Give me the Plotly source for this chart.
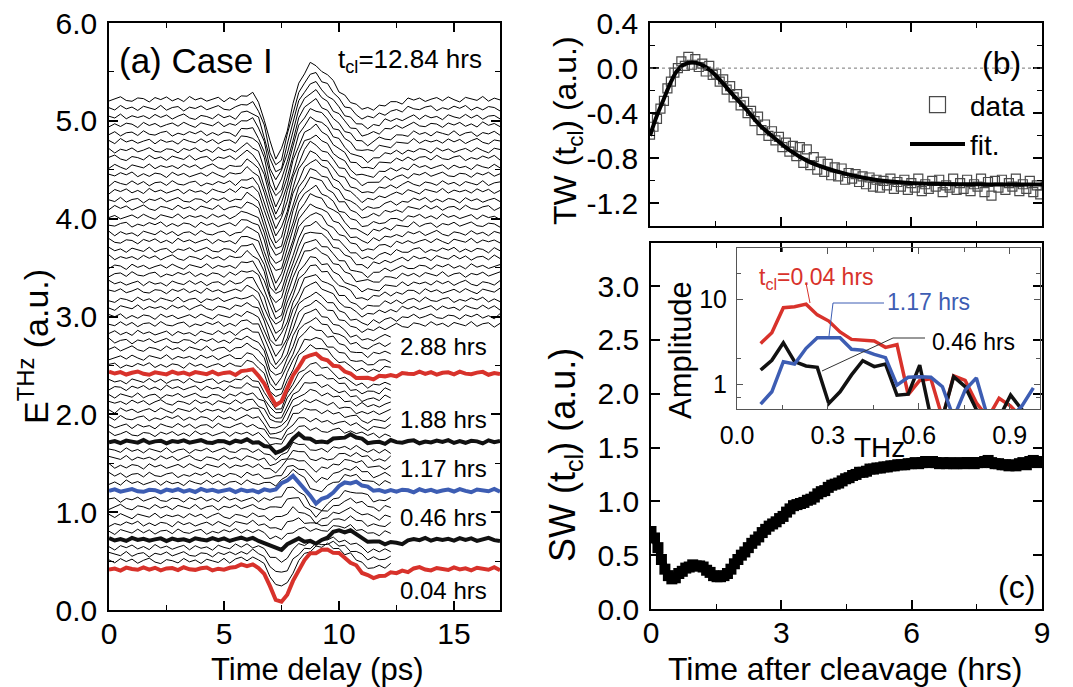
import numpy as np
import plotly.graph_objects as go

FIG_W, FIG_H = 1073, 687
FONT = "Liberation Sans, Arial, Helvetica, sans-serif"


def px(x):
    return x / FIG_W


def py(y):
    return 1 - y / FIG_H


# ---------------- panel (a): THz waveforms ----------------
delay_ps = np.round(np.arange(0.0, 17.0001, 0.25), 2)   # time axis (ps)
PULSE_FIRST = 22                                         # sample at 5.5 ps; pulse windows run 5.5-13.0 ps

# waveform deviations from baseline, 5.5 ... 13.0 ps every 0.25 ps
shape_main = [0, 0.03, 0.06, 0.05, -0.03, -0.20, -0.45, -0.60, -0.52, -0.30, -0.05, 0.15, 0.28, 0.35,
              0.35, 0.30, 0.24, 0.17, 0.10, 0.04, -0.02, -0.07, -0.10, -0.11, -0.09, -0.07, -0.05,
              -0.04, -0.03, -0.02, -0.01]                                   # 12.84 hrs trace
shape_004 = [0.02, 0.03, 0.04, 0.04, 0.02, -0.06, -0.18, -0.30, -0.35, -0.26, -0.13, -0.01, 0.09, 0.15,
             0.17, 0.18, 0.20, 0.18, 0.15, 0.11, 0.07, 0.02, -0.03, -0.07, -0.09, -0.08, -0.06, -0.05,
             -0.04, -0.03, -0.02]                                           # 0.04 hrs
shape_046 = [0, 0.01, 0.01, 0.0, -0.01, -0.03, -0.07, -0.10, -0.09, -0.05, -0.01, 0.0, -0.02, -0.03,
             -0.03, -0.01, 0.03, 0.07, 0.09, 0.09, 0.08, 0.06, 0.02, -0.01, -0.02, -0.03, -0.04, -0.04,
             -0.03, -0.03, -0.02]                                           # 0.46 hrs
shape_117 = [0, 0, 0, 0, 0, 0, 0.0, 0.02, 0.06, 0.11, 0.14, 0.10, 0.02, -0.06, -0.12, -0.10, -0.06,
             -0.01, 0.04, 0.07, 0.09, 0.09, 0.06, 0.03, 0.0, -0.01, 0, 0, 0, 0, 0]  # 1.17 hrs
shape_188 = [0, 0, 0.01, 0.0, -0.01, -0.03, -0.07, -0.11, -0.10, -0.04, 0.03, 0.07, 0.05, 0.02, 0.0,
             0.0, 0.01, 0.02, 0.04, 0.05, 0.06, 0.05, 0.02, 0.0, -0.01, -0.01, -0.01, 0, 0, 0, 0]  # 1.88 hrs

# measurement noise, read as a wiggle pattern (a.u.)
jitter = [0.012, -0.018, 0.025, -0.005, 0.02, -0.022, 0.008, 0.03, -0.01, -0.026, 0.015, 0.004,
          -0.019, 0.027, -0.008, 0.011, -0.024, 0.019, 0.002, -0.015, 0.028, -0.021, 0.006, 0.016,
          -0.029, 0.01, -0.004, 0.023, -0.017, 0.001, 0.026, -0.012, -0.02, 0.014, 0.007, -0.027,
          0.018, -0.003, 0.024, -0.016, 0.009, -0.023, 0.029, -0.006, 0.013, -0.019, 0.003, 0.021,
          -0.025, 0.017, -0.009, 0.005, -0.028, 0.022, 0.0, -0.014, 0.026, -0.011, 0.019, -0.024,
          0.008, 0.015, -0.02, 0.028, -0.007, -0.016, 0.011, 0.023, -0.026, 0.004, -0.013, 0.02,
          -0.002, 0.027, -0.021, 0.01, -0.018, 0.016, 0.006, -0.029, 0.024, -0.008, 0.013, -0.022,
          0.001, 0.018, -0.015, 0.025, -0.004, -0.027, 0.02, 0.007, -0.011, 0.029, -0.019, 0.012,
          -0.006]

# thin traces: baseline offset and weights of the three waveform shapes
thin_offsets = [0.50, 0.57, 0.64, 0.80, 0.88, 0.96, 1.05, 1.13, 1.30, 1.38, 1.47, 1.55, 1.63,
                1.80, 1.88, 1.96, 2.04, 2.12, 2.19, 2.27, 2.34,
                2.50, 2.58, 2.67, 2.75, 2.83, 2.92, 3.00, 3.09, 3.17, 3.26, 3.34, 3.43, 3.51, 3.60,
                3.68, 3.77, 3.85, 3.94, 4.02, 4.11, 4.19, 4.28, 4.36, 4.45, 4.53, 4.62, 4.70, 4.79,
                4.87, 4.96, 5.04, 5.13, 5.22]
thin_w_main = [0, 0, 0, 0, 0, 0, 0, 0, 0.04, 0.07, 0.10, 0.12, 0.15,
               0.22, 0.26, 0.30, 0.33, 0.37, 0.41, 0.45, 0.49,
               0.55, 0.57, 0.59, 0.61, 0.63, 0.65, 0.67, 0.69, 0.70, 0.72, 0.73, 0.75, 0.76, 0.78,
               0.79, 0.80, 0.82, 0.83, 0.84, 0.85, 0.86, 0.87, 0.88, 0.89, 0.90, 0.91, 0.92, 0.93,
               0.94, 0.95, 0.96, 0.98, 1.00]
thin_w_early = [0.8, 0.6, 0.45, 0.25, 0.2, 0.12, 0.06, 0.0] + [0] * 46
thin_w_mid = [0, 0.1, 0.2, 0.3, 0.45, 0.6, 0.75, 0.9, 0.85, 0.75, 0.65, 0.55, 0.45,
              0.35, 0.3, 0.25, 0.2, 0.15, 0.1, 0.05, 0.0] + [0] * 33

hl_labels = ["0.04 hrs", "0.46 hrs", "1.17 hrs", "1.88 hrs", "2.88 hrs"]
hl_offsets = [0.42, 0.72, 1.22, 1.72, 2.42]
hl_label_y = [0.20, 0.95, 1.45, 1.95, 2.69]
hl_colors = ["#d8322b", "#111111", "#3d5db3", "#111111", "#d8322b"]

# ---------------- panel (b): TW ----------------
tw_data = [-0.59, -0.52, -0.45, -0.36, -0.29, -0.18, -0.12, -0.04, 0.00, 0.06,
           0.02, 0.10, 0.03, 0.08, 0.01, 0.04, -0.03, 0.02, -0.06, -0.05,
           -0.12, -0.10, -0.19, -0.16, -0.26, -0.23, -0.33, -0.30, -0.40, -0.38,
           -0.47, -0.43, -0.55, -0.50, -0.60, -0.56, -0.64, -0.61, -0.70, -0.66,
           -0.74, -0.69, -0.78, -0.70, -0.84, -0.72, -0.86, -0.79, -0.90, -0.83,
           -0.92, -0.85, -0.95, -0.88, -0.96, -0.89, -0.99, -0.93, -0.98, -0.94,
           -1.01, -0.96, -1.03, -0.97, -1.05, -0.99, -1.06, -1.00, -1.04, -0.98,
           -1.07, -1.01, -1.05, -0.99, -1.08, -1.02, -1.06, -0.98, -1.09, -1.03,
           -1.07, -1.00, -1.05, -0.99, -1.10, -1.04, -1.06, -0.98, -1.08, -1.02,
           -1.07, -0.99, -1.09, -1.03, -1.05, -0.98, -1.10, -1.01, -1.13, -1.00,
           -1.06, -0.99, -1.08, -1.02, -1.05, -0.98, -1.09, -1.03, -1.07, -1.00,
           -1.10, -1.04, -1.12]
fit_hours = [0.0, 0.15, 0.31, 0.46, 0.61, 0.77, 0.96, 1.15, 1.38, 1.61, 1.91, 2.22, 2.53, 2.83,
             3.21, 3.6, 4.06, 4.52, 5.13, 5.89, 6.66, 7.8, 9.0]
fit_values = [-0.60, -0.43, -0.28, -0.14, -0.03, 0.03, 0.05, 0.036, -0.018, -0.107, -0.24, -0.37,
              -0.51, -0.61, -0.73, -0.82, -0.89, -0.94, -0.987, -1.016, -1.028, -1.031, -1.031]

# ---------------- panel (c): SW ----------------
sw_data = [0.72, 0.66, 0.57, 0.46, 0.37, 0.31, 0.28, 0.29, 0.33, 0.35,
           0.38, 0.39, 0.41, 0.40, 0.40, 0.39, 0.36, 0.34, 0.31, 0.30,
           0.30, 0.31, 0.33, 0.37, 0.42, 0.46, 0.50, 0.53, 0.57, 0.61,
           0.64, 0.67, 0.71, 0.74, 0.77, 0.79, 0.81, 0.84, 0.86, 0.90,
           0.93, 0.96, 0.97, 0.98, 0.99, 1.01, 1.02, 1.04, 1.07, 1.09,
           1.10, 1.13, 1.15, 1.16, 1.17, 1.19, 1.21, 1.22, 1.24, 1.25,
           1.27, 1.27, 1.28, 1.30, 1.30, 1.31, 1.31, 1.32, 1.32, 1.33,
           1.33, 1.34, 1.34, 1.34, 1.35, 1.35, 1.36, 1.35, 1.36, 1.37,
           1.36, 1.37, 1.36, 1.35, 1.36, 1.35, 1.36, 1.35, 1.35, 1.36,
           1.35, 1.36, 1.36, 1.35, 1.36, 1.36, 1.37, 1.38, 1.36, 1.35,
           1.35, 1.34, 1.34, 1.33, 1.34, 1.33, 1.35, 1.36, 1.34, 1.37,
           1.38, 1.36, 1.37]
HOUR_STEP = 0.08

# ---------------- inset: spectra ----------------
thz = [0.078, 0.115, 0.153, 0.19, 0.228, 0.265, 0.303, 0.34, 0.378, 0.415, 0.453, 0.49, 0.528,
       0.565, 0.603, 0.64, 0.678, 0.715, 0.753, 0.79, 0.828, 0.865, 0.903, 0.94, 0.978]
amp_004 = [3.0, 4.0, 7.9, 8.1, 8.7, 6.5, 5.5, 4.1, 3.35, 3.3, 3.2, 2.7, 2.9, 0.75, 1.1, 1.15, 0.4,
           1.25, 1.1, 0.6, 0.4, 0.68, 0.55, 0.4, 0.4]
amp_046 = [1.46, 1.9, 3.06, 1.83, 1.63, 1.57, 0.59, 0.81, 1.28, 1.88, 1.6, 1.72, 0.74, 0.76, 1.67,
           0.4, 0.4, 1.22, 0.93, 0.5, 0.4, 0.4, 0.74, 0.5, 0.4]
amp_117 = [0.58, 0.81, 1.83, 1.72, 2.63, 3.5, 3.5, 3.5, 2.56, 2.5, 2.23, 2.04, 0.97, 1.2, 1.22,
           1.2, 0.93, 0.4, 0.85, 1.18, 0.4, 0.4, 0.4, 0.55, 0.9]


# ================= build figure =================
def pulse(win):
    out = np.zeros(delay_ps.size)
    out[PULSE_FIRST:PULSE_FIRST + len(win)] = win
    return out


JIT = np.array(jitter)


def jit(k, scale=1.0):
    idx = (np.arange(delay_ps.size) + 17 * k) % JIT.size
    return scale * JIT[idx]


A = pulse(shape_main)
B = pulse(shape_004)
C = pulse(shape_117)
hl_shapes = [B, pulse(shape_046), C, pulse(shape_188), 0.53 * A]

fig = go.Figure()
CUT = int(np.searchsorted(delay_ps, 12.25)) + 1

for k, (off, wa, wb, wc) in enumerate(zip(thin_offsets, thin_w_main, thin_w_early, thin_w_mid)):
    y = off + wa * A + wb * B + wc * C + jit(k)
    x = delay_ps
    if off < 2.9:
        x, y = x[:CUT], y[:CUT]
    fig.add_trace(go.Scatter(x=x, y=y, mode="lines", line=dict(color="black", width=1),
                             showlegend=False, hoverinfo="skip", xaxis="x", yaxis="y"))

for k, (off, shp, col) in enumerate(zip(hl_offsets, hl_shapes, hl_colors)):
    y = off + shp + jit(60 + 5 * k, 0.6)
    fig.add_trace(go.Scatter(x=delay_ps, y=y, mode="lines", line=dict(color=col, width=4),
                             showlegend=False, name=hl_labels[k], xaxis="x", yaxis="y"))

# (b)
tw_hours = np.round(np.arange(len(tw_data)) * HOUR_STEP, 2)
DATA_MARK = dict(symbol="square-open", color="#4a4a4a", line=dict(width=1.2, color="#4a4a4a"))
fig.add_trace(go.Scatter(x=tw_hours, y=tw_data, mode="markers", name="data", showlegend=False,
                         marker=dict(size=9, **DATA_MARK), xaxis="x2", yaxis="y2"))
# legend entry with the larger symbol drawn in the reference legend
fig.add_trace(go.Scatter(x=[None], y=[None], mode="markers", name="data",
                         marker=dict(size=16, **DATA_MARK), xaxis="x2", yaxis="y2"))
fig.add_trace(go.Scatter(x=fit_hours, y=fit_values, mode="lines", name="fit.",
                         line=dict(color="black", width=4, shape="spline"),
                         xaxis="x2", yaxis="y2"))

# (c)
sw_hours = np.round(np.arange(len(sw_data)) * HOUR_STEP, 2)
fig.add_trace(go.Scatter(x=sw_hours, y=sw_data, mode="lines+markers", showlegend=False,
                         line=dict(color="black", width=7),
                         marker=dict(symbol="square", size=11, color="black"),
                         xaxis="x3", yaxis="y3"))

# inset
for amp, col in [(amp_004, "#d8322b"), (amp_046, "#111111"), (amp_117, "#3d5db3")]:
    fig.add_trace(go.Scatter(x=thz, y=amp, mode="lines", showlegend=False,
                             line=dict(color=col, width=3.5), xaxis="x4", yaxis="y4"))


def ax(**kw):
    base = dict(showline=True, linecolor="black", linewidth=1.5, mirror="allticks",
                ticks="inside", ticklen=9, tickwidth=1.5, tickcolor="black",
                showgrid=False, zeroline=False, ticklabelstandoff=4, automargin=False,
                ticklabeloverflow="allow",
                tickfont=dict(family=FONT, size=30, color="black"))
    base.update(kw)
    return base


minor = lambda d, n=5: dict(ticks="inside", ticklen=n, tickwidth=1.2, tickcolor="black", dtick=d)

layout = dict(
    width=FIG_W, height=FIG_H, margin=dict(l=0, r=0, t=0, b=0, pad=0, autoexpand=False),
    paper_bgcolor="white", plot_bgcolor="rgba(0,0,0,0)",
    font=dict(family=FONT, color="black"),
    xaxis=ax(domain=[px(109), px(500)], range=[0, 17], dtick=5, minor=minor(2.5), anchor="y",
             ticklabelstandoff=-4),
    yaxis=ax(domain=[py(610), py(23)], range=[0, 6], dtick=1, tickformat=".1f",
             minor=minor(0.5), anchor="x"),
    xaxis2=ax(domain=[px(650), px(1042)], range=[0, 9], dtick=3, minor=minor(1.5),
              showticklabels=False, anchor="y2"),
    yaxis2=ax(domain=[py(226), py(23)], range=[-1.4, 0.4], tickvals=[-1.2, -0.8, -0.4, 0.0, 0.4],
              ticktext=["-1.2", "-0.8", "-0.4", "0.0", "0.4"], minor=minor(0.2), anchor="x2"),
    xaxis3=ax(domain=[px(651), px(1042)], range=[0, 9], dtick=3, minor=minor(1.5), anchor="y3",
              ticklabelstandoff=-4),
    yaxis3=ax(domain=[py(609), py(243)], range=[0, 3.4], dtick=0.5, tickformat=".1f", anchor="x3"),
    xaxis4=ax(domain=[px(737), px(1040)], range=[0, 1.0], tickvals=[0, 0.3, 0.6, 0.9],
              ticktext=["0.0", "0.3", "0.6", "0.9"], linecolor="#555", linewidth=1,
              ticklen=6, tickwidth=1, tickcolor="#555",
              minor=dict(ticks="inside", ticklen=4, tickcolor="#555", dtick=0.15),
              tickfont=dict(family=FONT, size=25, color="black"), anchor="y4"),
    yaxis4=ax(domain=[py(409), py(248)], type="log", range=[-0.294, 1.6], tickvals=[1, 10],
              ticktext=["1", "10"], linecolor="#555", linewidth=1, ticklen=6, tickwidth=1,
              tickcolor="#555",
              minor=dict(ticks="inside", ticklen=4, tickcolor="#555", tickvals=[0.7, 2, 20]),
              tickfont=dict(family=FONT, size=25, color="black"), anchor="x4"),
    legend=dict(x=px(1030), xanchor="right", y=py(80), yanchor="top", bgcolor="rgba(0,0,0,0)",
                font=dict(family=FONT, size=28, color="black"), itemsizing="trace",
                itemwidth=55, tracegroupgap=0),
)
fig.update_layout(**layout)

ann = []


def note(text, x, y, size, xanchor="center", yanchor="middle", angle=0, color="black", **kw):
    ann.append(dict(text=text, x=x, y=y, xref=kw.pop("xref", "paper"), yref=kw.pop("yref", "paper"),
                    xanchor=xanchor, yanchor=yanchor, textangle=angle, showarrow=False,
                    font=dict(family=FONT, size=size, color=color)))


# axis titles
note("Time delay (ps)", px(317), py(669), 31)
note("E<sup>THz</sup> (a.u.)", px(33), py(347), 34, angle=-90)
note("TW (t<sub>cl</sub>) (a.u.)", px(568), py(131), 32, angle=-90)
note("SW (t<sub>cl</sub>) (a.u.)", px(565), py(455), 36, angle=-90)
note("Time after cleavage (hrs)", px(845), py(669), 32)
note("Amplitude", px(680), py(350), 31, angle=-90)
note("THz", px(879), py(447), 28)

# panel labels
note("(a) Case I", 0.35, 5.62, 35, xanchor="left", xref="x", yref="y")
note("t<sub>cl</sub>=12.84 hrs", 16.3, 5.62, 26, xanchor="right", xref="x", yref="y")
for lab, yy in zip(hl_labels, hl_label_y):
    note(lab, 14.55, yy, 24, xref="x", yref="y")
note("(b)", px(1001), py(63), 32)
note("(c)", px(1016), py(587), 32)

# inset labels
note("t<sub>cl</sub>=0.04 hrs", px(757), py(279), 23, xanchor="left", color="#d8322b")
note("1.17 hrs", px(885), py(302), 23, xanchor="left", color="#3d5db3")
note("0.46 hrs", px(930), py(342), 23, xanchor="left")
fig.update_layout(annotations=ann)

shapes = [
    dict(type="line", xref="x2 domain", yref="y2", x0=0, x1=1, y0=0, y1=0,
         line=dict(color="#777", width=1, dash="dot")),
    dict(type="line", xref="paper", yref="paper", x0=px(810), y0=py(303), x1=px(806), y1=py(283),
         line=dict(color="#d8322b", width=1)),
    dict(type="path", xref="paper", yref="paper",
         path=f"M {px(829)} {py(336)} L {px(833)} {py(303)} L {px(884)} {py(303)}",
         line=dict(color="#3d5db3", width=1)),
    dict(type="path", xref="paper", yref="paper",
         path=f"M {px(822)} {py(371)} L {px(893)} {py(338)} L {px(925)} {py(338)}",
         line=dict(color="#333", width=1)),
]
fig.update_layout(shapes=shapes)

# let the figure fill the browser window exactly (no default page margin)
fig.write_html("out.html", config={"displayModeBar": False},
               post_script="document.body.style.margin='0';document.body.style.overflow='hidden';")
